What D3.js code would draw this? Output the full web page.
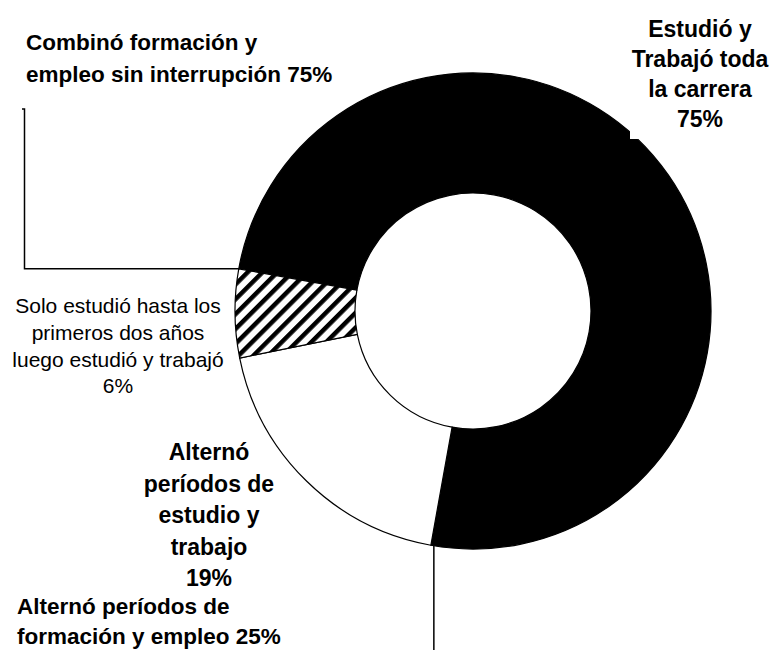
<!DOCTYPE html>
<html>
<head>
<meta charset="utf-8">
<script src="https://cdn.jsdelivr.net/npm/d3@7"></script>
<style>
  body { margin: 0; background: #fff; }
  svg text { font-family: "Liberation Sans", Arial, sans-serif; fill: #000; }
</style>
</head>
<body>
<svg id="chart"></svg>
<script>
// data
var categories = ["Estudió y Trabajó toda la carrera", "Alternó períodos de estudio y trabajo", "Solo estudió hasta los primeros dos años luego estudió y trabajó"];
var values = [75, 19, 6];
var sliceLabels = [
    ["Estudió y", "Trabajó toda", "la carrera", "75%"],
    ["Alternó", "períodos de", "estudio y", "trabajo", "19%"],
    ["Solo estudió hasta los", "primeros dos años", "luego estudió y trabajó", "6%"]
];
var groupLabels = [
    ["Combinó formación y", "empleo sin interrupción 75%"],
    ["Alternó períodos de", "formación y empleo 25%"]
];

var dims = { width: 773, height: 650, cx: 473, cy: 311, outer: 238, inner: 118 };
var svg = d3.select("#chart").attr("width", dims.width).attr("height", dims.height);

// hatch pattern
var pat = svg.append("defs").append("pattern")
    .attr("id", "hatch")
    .attr("patternUnits", "userSpaceOnUse")
    .attr("width", 10.5).attr("height", 10.5)
    .attr("patternTransform", "rotate(45)");
pat.append("rect").attr("width", 10.5).attr("height", 10.5).attr("fill", "#fff");
pat.append("rect").attr("x", 0).attr("width", 4.5).attr("height", 10.5).attr("fill", "#000");

var fills = ["#000", "#fff", "url(#hatch)"];

var startDeg = -79.8;
var pie = d3.pie().sort(null)
    .startAngle(startDeg * Math.PI / 180)
    .endAngle((startDeg + 360) * Math.PI / 180);
var arcs = pie(values);
var arc = d3.arc().innerRadius(dims.inner).outerRadius(dims.outer);

var g = svg.append("g").attr("transform", `translate(${dims.cx},${dims.cy})`);
g.selectAll("path")
    .data(arcs)
    .enter()
    .append("path")
    .attr("d", arc)
    .attr("fill", (d, i) => fills[i])
    .attr("stroke", "#000")
    .attr("stroke-width", 1.2);

// point on the outer edge at an angle
function outerPt(a) {
    return [dims.cx + dims.outer * Math.sin(a), dims.cy - dims.outer * Math.cos(a)];
}

// leader lines
var pHatch = outerPt(arcs[2].endAngle);
svg.append("path")
    .attr("d", `M22,109 L24.5,109 L24.5,${pHatch[1]} L${pHatch[0]},${pHatch[1]}`)
    .attr("fill", "none").attr("stroke", "#000").attr("stroke-width", 1.5);
var pWhite = outerPt(arcs[1].startAngle);
svg.append("path")
    .attr("d", `M${pWhite[0] + 3},${pWhite[1]} L${pWhite[0] + 3},${dims.height}`)
    .attr("fill", "none").attr("stroke", "#000").attr("stroke-width", 1.5);

// label box of first slice covers a bit of the ring
svg.append("rect").attr("x", 630).attr("y", 8).attr("width", 143).attr("height", 131).attr("fill", "#fff");

function addLines(lines, x, y0, step, anchor, weight, size) {
    var t = svg.append("text")
        .attr("text-anchor", anchor)
        .attr("font-weight", weight)
        .attr("font-size", size);
    lines.forEach((l, i) => {
        t.append("tspan").attr("x", x).attr("y", y0 + i * step).text(l);
    });
}

addLines(sliceLabels[0], 700, 37, 30, "middle", "bold", 23);
addLines(sliceLabels[1], 209, 460, 31.5, "middle", "bold", 23);
addLines(sliceLabels[2], 118, 313, 26.8, "middle", "normal", 21);
addLines(groupLabels[0], 26, 50, 32, "start", "bold", 22.5);
addLines(groupLabels[1], 17, 614, 29.5, "start", "bold", 22.5);
</script>
</body>
</html>
